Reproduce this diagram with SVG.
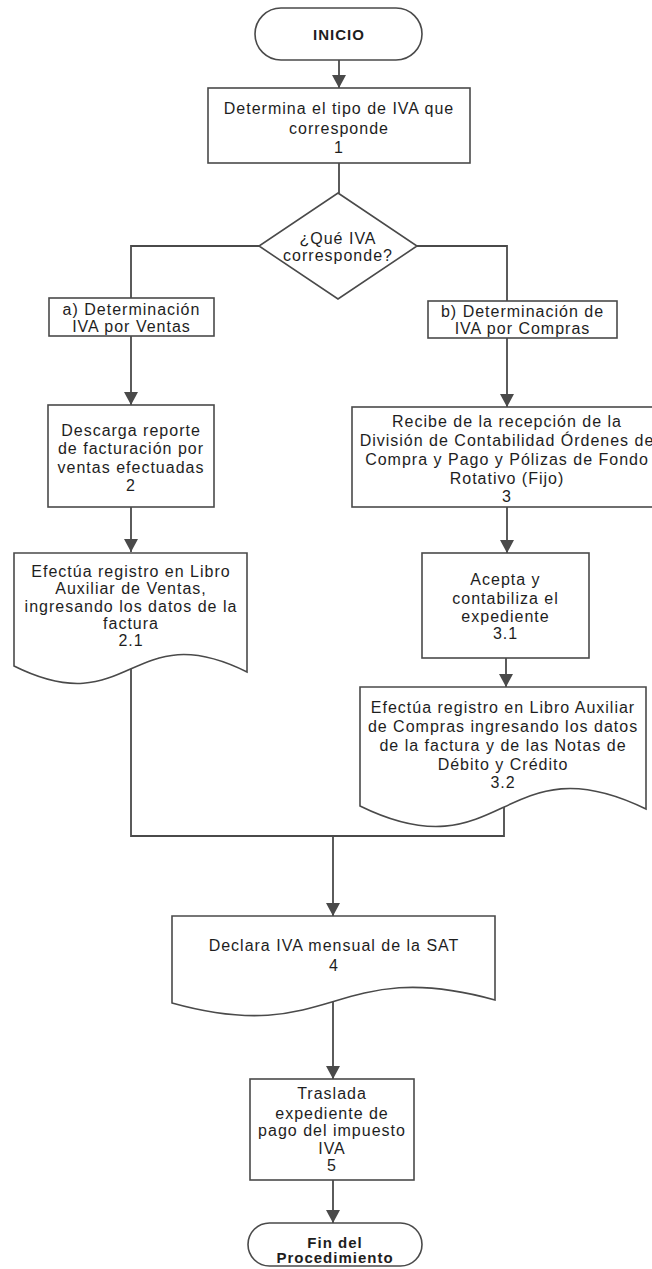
<svg xmlns="http://www.w3.org/2000/svg" width="652" height="1269" viewBox="0 0 652 1269">
  <style>
    .shape { fill: #ffffff; stroke: #4a4a4a; stroke-width: 1.6; }
    .link { fill: none; stroke: #4a4a4a; stroke-width: 1.8; }
    .arrow { marker-end: url(#head); }
    text { font-family: "Liberation Sans", Arial, sans-serif; font-size: 16px; fill: #1e1e1e; text-anchor: middle; letter-spacing: 1px; }
    .bold { font-weight: bold; font-size: 15px; }
  </style>
  <defs>
    <marker id="head" markerUnits="userSpaceOnUse" markerWidth="14" markerHeight="14" refX="13" refY="7" orient="auto">
      <path d="M0,0 L13,7 L0,14 Z" fill="#4a4a4a"/>
    </marker>
  </defs>

  <!-- connectors -->
  <g id="connectors">
    <path class="link arrow" d="M339,60 V88"/>
    <path class="link" d="M339,163 V193"/>
    <path class="link" d="M259,246 H131 V298"/>
    <path class="link" d="M417,246 H507 V301"/>
    <path class="link arrow" d="M131,336 V405"/>
    <path class="link arrow" d="M507,338 V407"/>
    <path class="link arrow" d="M131,507 V552"/>
    <path class="link arrow" d="M507,507 V553"/>
    <path class="link arrow" d="M506,658 V687"/>
    <path class="link" d="M131,668 V836 H504 V805"/>
    <path class="link arrow" d="M333,836 V916"/>
    <path class="link arrow" d="M333,1000 V1079"/>
    <path class="link arrow" d="M333,1180 V1223"/>
  </g>

  <g id="inicio">
    <rect class="shape" x="255" y="8" width="167" height="52" rx="26"/>
    <text class="bold" x="339" y="40">INICIO</text>
  </g>

  <g id="paso1">
    <rect class="shape" x="208" y="88" width="262" height="75"/>
    <text x="339" y="113.5">Determina el tipo de IVA que</text>
    <text x="339" y="133.5">corresponde</text>
    <text x="339" y="152.5">1</text>
  </g>

  <g id="decision">
    <path class="shape" d="M338,193 L417,246 L338,299 L259,246 Z"/>
    <text x="338" y="243.5">¿Qué IVA</text>
    <text x="338" y="260.5">corresponde?</text>
  </g>

  <g id="ventas">
    <rect class="shape" x="49" y="298" width="165" height="38"/>
    <text x="131.5" y="314.5">a) Determinación</text>
    <text x="131.5" y="332">IVA por Ventas</text>
  </g>

  <g id="compras">
    <rect class="shape" x="428" y="301" width="189" height="37"/>
    <text x="522.5" y="317">b) Determinación de</text>
    <text x="522.5" y="333.5">IVA por Compras</text>
  </g>

  <g id="paso2">
    <rect class="shape" x="48" y="405" width="166" height="102"/>
    <text x="131" y="435.5">Descarga reporte</text>
    <text x="131" y="453.5">de facturación por</text>
    <text x="131" y="472.5">ventas efectuadas</text>
    <text x="131" y="490.5">2</text>
  </g>

  <g id="paso2-1">
    <path class="shape" d="M14,553 H247 V672 C130.5,614 130.5,724 14,666 Z"/>
    <text x="131" y="576.5">Efectúa registro en Libro</text>
    <text x="131" y="594">Auxiliar de Ventas,</text>
    <text x="131" y="611.5">ingresando los datos de la</text>
    <text x="131" y="628.5">factura</text>
    <text x="131" y="645.5">2.1</text>
  </g>

  <g id="paso3">
    <rect class="shape" x="352" y="407" width="310" height="100"/>
    <text x="507" y="426.5">Recibe de la recepción de la</text>
    <text x="507" y="445.5">División de Contabilidad Órdenes de</text>
    <text x="507" y="464.5">Compra y Pago y Pólizas de Fondo</text>
    <text x="507" y="483.5">Rotativo (Fijo)</text>
    <text x="507" y="501.5">3</text>
  </g>

  <g id="paso3-1">
    <rect class="shape" x="422" y="553" width="167" height="105"/>
    <text x="505.5" y="584.5">Acepta y</text>
    <text x="505.5" y="603.5">contabiliza el</text>
    <text x="505.5" y="621.5">expediente</text>
    <text x="505.5" y="639">3.1</text>
  </g>

  <g id="paso3-2">
    <path class="shape" d="M360,687 H646 V809 C503,739 503,876 360,806 Z"/>
    <text x="503" y="712.5">Efectúa registro en Libro Auxiliar</text>
    <text x="503" y="731.5">de Compras ingresando los datos</text>
    <text x="503" y="750.5">de la factura y de las Notas de</text>
    <text x="503" y="769.5">Débito y Crédito</text>
    <text x="503" y="787.5">3.2</text>
  </g>

  <g id="paso4">
    <path class="shape" d="M172,916 H495 V1000 C333.5,955 333.5,1048 172,1003 Z"/>
    <text x="334" y="950.5">Declara IVA mensual de la SAT</text>
    <text x="334" y="970.5">4</text>
  </g>

  <g id="paso5">
    <rect class="shape" x="250" y="1079" width="164" height="101"/>
    <text x="332" y="1098.5">Traslada</text>
    <text x="332" y="1118.5">expediente de</text>
    <text x="332" y="1135.5">pago del impuesto</text>
    <text x="332" y="1153.5">IVA</text>
    <text x="332" y="1170.5">5</text>
  </g>

  <g id="fin">
    <rect class="shape" x="248" y="1223" width="174" height="43" rx="21.5"/>
    <text class="bold" x="335" y="1247.5">Fin del</text>
    <text class="bold" x="335" y="1263">Procedimiento</text>
  </g>
</svg>
